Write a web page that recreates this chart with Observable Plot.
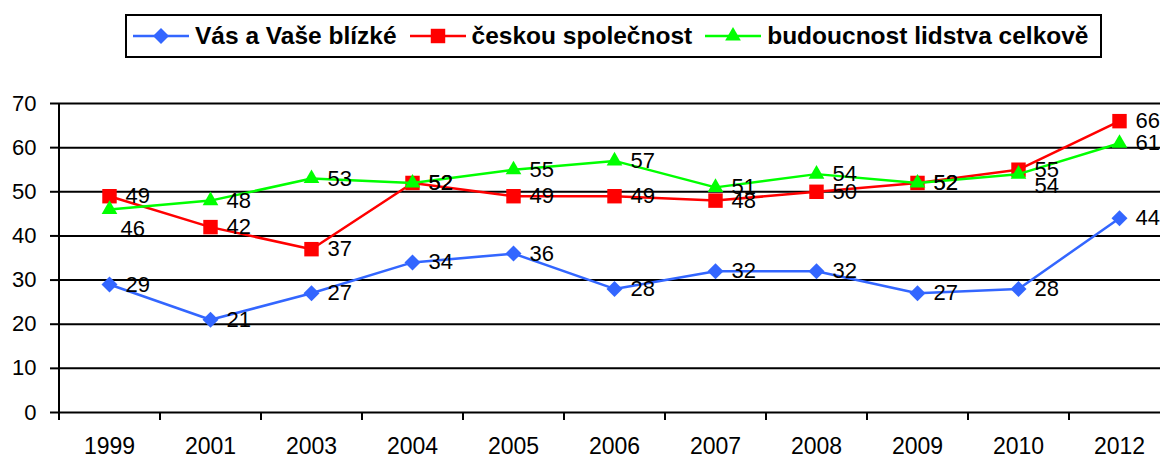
<!DOCTYPE html>
<html><head><meta charset="utf-8">
<script src="https://cdn.jsdelivr.net/npm/d3@7"></script>
<script src="https://cdn.jsdelivr.net/npm/@observablehq/plot@0.6"></script>
<style>
html,body{margin:0;padding:0;background:#fff;overflow:hidden;}
#wrap{position:relative;width:1160px;height:458px;overflow:hidden;font-family:"Liberation Sans",Arial,sans-serif;color:#000;}
#legend{position:absolute;left:125px;top:14px;width:977px;height:44px;box-sizing:border-box;border:2px solid #000;display:flex;align-items:center;padding-left:6px;}
.item{display:flex;align-items:center;margin-right:13px;}
.item svg{margin-right:6px;display:block;}
.item span{font-weight:bold;font-size:24.5px;white-space:nowrap;}
#chart{position:absolute;left:0;top:80px;}
#chart svg{overflow:visible;}
</style></head>
<body><div id="wrap"><div id="legend"></div><div id="chart"></div></div>
<script>
const years = ["1999","2001","2003","2004","2005","2006","2007","2008","2009","2010","2012"];
const seriesNames = ["Vás a Vaše blízké","českou společnost","budoucnost lidstva celkově"];
const blizke = [29,21,27,34,36,28,32,32,27,28,44];
const spolecnost = [49,42,37,52,49,49,48,50,52,55,66];
const lidstvo = [46,48,53,52,55,57,51,54,52,54,61];
const yTicks = [0,10,20,30,40,50,60,70];

const colors = ["#3366FF","#FF0000","#00FF00"];
const symbols = ["diamond2","square2","triangle2"];
const radii = [7.2,9.2,7.5];
const values = [blizke, spolecnost, lidstvo];

const rows = [];
seriesNames.forEach((s, k) => years.forEach((y, i) => rows.push({series: s, k, year: y, value: values[k][i]})));

// legend
const legend = document.getElementById("legend");
const symMap = {diamond2: d3.symbolDiamond2, square2: d3.symbolSquare2, triangle2: d3.symbolTriangle2};
seriesNames.forEach((s, k) => {
  const item = document.createElement("div");
  item.className = "item";
  const sw = d3.create("svg").attr("width", 56).attr("height", 20);
  sw.append("line").attr("x1", 0).attr("x2", 56).attr("y1", 10).attr("y2", 10).attr("stroke", colors[k]).attr("stroke-width", 2.5);
  sw.append("path").attr("transform", "translate(28,10)").attr("fill", colors[k])
    .attr("d", d3.symbol(symMap[symbols[k]], Math.PI * radii[k] * radii[k])());
  item.appendChild(sw.node());
  const t = document.createElement("span");
  t.textContent = s;
  item.appendChild(t);
  legend.appendChild(item);
});

const step = 101;
const marks = [
  Plot.ruleY(yTicks, {stroke: "#000", strokeWidth: 2}),
  Plot.ruleX([years[0]], {dx: -step / 2, stroke: "#000", strokeWidth: 2}),
  Plot.axisY({ticks: yTicks, tickSize: 8, tickPadding: 14, fontSize: 22, strokeWidth: 2, label: null}),
  Plot.axisX({tickSize: 0, tickPadding: 25, fontSize: 23, label: null}),
  Plot.axisX({tickSize: 8, tickFormat: () => "", dx: -step / 2, strokeWidth: 2, label: null})
];
seriesNames.forEach((s, k) => {
  const d = rows.filter(r => r.k === k);
  marks.push(Plot.line(d, {x: "year", y: "value", stroke: colors[k], strokeWidth: 2.5}));
  marks.push(Plot.dot(d, {x: "year", y: "value", symbol: () => symbols[k], r: radii[k], fill: colors[k], stroke: "none"}));
});
const isSpecial = r => r.k === 2 && (r.year === "1999" || r.year === "2010");
marks.push(Plot.text(rows.filter(r => !isSpecial(r)), {x: "year", y: "value", text: "value", textAnchor: "start", dx: 16, fontSize: 22, fill: "#000"}));
marks.push(Plot.text(rows.filter(r => r.k === 2 && r.year === "1999"), {x: "year", y: "value", text: "value", textAnchor: "start", dx: 11, dy: 20, fontSize: 22, fill: "#000"}));
marks.push(Plot.text(rows.filter(r => r.k === 2 && r.year === "2010"), {x: "year", y: "value", text: "value", textAnchor: "start", dx: 16, dy: 12, fontSize: 22, fill: "#000"}));

const chart = Plot.plot({
  width: 1160,
  height: 378,
  marginTop: 23,
  marginBottom: 46,
  marginLeft: 58,
  marginRight: 0,
  style: {fontFamily: "Liberation Sans, Arial, sans-serif", color: "#000", background: "#fff", overflow: "visible"},
  x: {type: "point", domain: years, padding: 0.5, range: [58, 1169]},
  y: {domain: [0, 70]},
  symbol: {type: "identity"},
  marks
});
document.getElementById("chart").appendChild(chart);
</script>
</body></html>
